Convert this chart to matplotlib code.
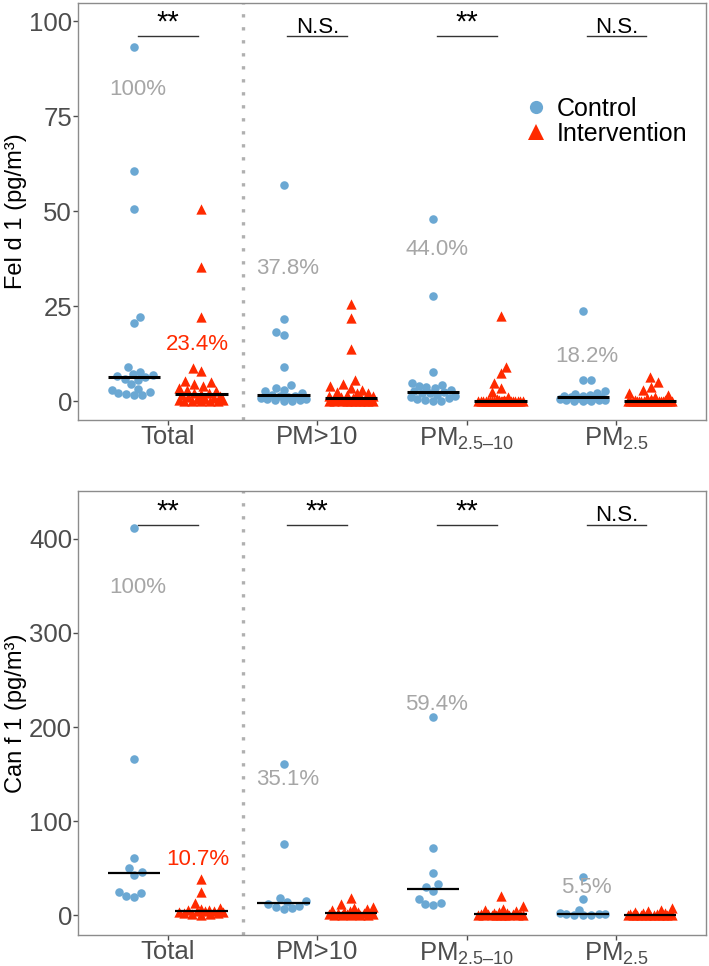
import numpy as np
import matplotlib.pyplot as plt
from matplotlib.lines import Line2D

plt.rcParams['font.family'] = ['Liberation Sans', 'DejaVu Sans']
plt.rcParams['mathtext.fontset'] = 'custom'
plt.rcParams['mathtext.rm'] = 'Liberation Sans'

categories = ['Total', 'PM>10', 'PM$_{\\mathrm{2.5\u201310}}$', 'PM$_{\\mathrm{2.5}}$']

# Fel d 1 (pg/m3)
fel_ctrl = [
    [93.2, 60.5, 50.6, 22.0, 20.6, 9.0, 7.6, 7.2, 6.9, 6.6, 6.4, 5.9, 5.5, 4.4, 3.2, 2.8, 2.4, 2.0, 1.8, 1.6, 1.5],
    [57.0, 21.6, 18.1, 17.5, 8.9, 4.2, 3.5, 3.0, 2.6, 2.2, 1.6, 1.4, 1.2, 1.0, 0.8, 0.6, 0.5, 0.3, 0.2, 0.0, 0.0],
    [47.9, 27.7, 7.6, 4.8, 4.3, 4.0, 3.6, 3.3, 3.0, 2.7, 2.4, 2.2, 2.0, 1.6, 1.3, 1.0, 0.8, 0.5, 0.3, 0.0, 0.0],
    [23.6, 5.6, 5.5, 2.6, 2.0, 1.8, 1.6, 1.4, 1.2, 1.1, 1.0, 0.9, 0.8, 0.6, 0.5, 0.4, 0.3, 0.2, 0.1, 0.0, 0.0],
]
fel_intv = [
    [50.5, 35.3, 22.0, 8.8, 7.8, 5.2, 5.0, 4.5, 4.0, 3.5, 3.0, 2.6, 2.2, 2.0, 1.8, 1.5, 1.2, 1.0, 0.8, 0.6,
     0.5, 0.3, 0.2, 0.1, 0.0, 0.0, 0.0, 0.0],
    [25.6, 21.9, 13.8, 5.5, 4.5, 4.0, 3.5, 3.0, 2.5, 2.2, 2.0, 1.6, 1.4, 1.2, 1.0, 0.9, 0.8, 0.7, 0.6, 0.5,
     0.4, 0.3, 0.3, 0.2, 0.2, 0.1, 0.1, 0.0, 0.0, 0.0, 0.0, 0.0, 0.0, 0.0, 0.0],
    [22.3, 9.0, 7.3, 4.8, 3.3, 2.3, 1.0, 0.5, 0.3, 0.2, 0.1, 0.0, 0.0, 0.0, 0.0, 0.0, 0.0, 0.0, 0.0, 0.0,
     0.0, 0.0, 0.0, 0.0, 0.0, 0.0, 0.0, 0.0, 0.0, 0.0, 0.0, 0.0],
    [6.2, 5.0, 3.8, 2.8, 2.0, 1.5, 1.0, 0.8, 0.5, 0.3, 0.2, 0.1, 0.0, 0.0, 0.0, 0.0, 0.0, 0.0, 0.0, 0.0,
     0.0, 0.0, 0.0, 0.0, 0.0, 0.0, 0.0, 0.0, 0.0, 0.0],
]
fel_pct = ['100%', '37.8%', '44.0%', '18.2%']
fel_pct_y = [82, 34.8, 39.8, 11.7]
fel_int_pct = '23.4%'
fel_int_pct_y = 14.9
fel_sig = ['**', 'N.S.', '**', 'N.S.']

# Can f 1 (pg/m3)
can_ctrl = [
    [412, 165.5, 61, 50, 46, 43, 25, 23, 20.5, 19],
    [160.5, 76, 18, 15, 13.5, 11.3, 10, 9, 7, 6],
    [210.7, 71, 45, 33, 30, 25.7, 17, 12.4, 11.7, 10.6],
    [41, 17.6, 5, 2, 1.5, 1, 0.8, 0.5, 0.2, 0],
]
can_intv = [
    [38.5, 24, 13, 8, 6, 5.5, 5, 4.5, 4.2, 4, 3.5, 3, 2.5, 2, 1.5, 1, 0.5],
    [18, 12, 9, 7, 6, 5, 4, 3.5, 3, 2.5, 2.2, 2.0, 1.5, 1.2, 1.0, 0.8, 0.5, 0.3, 0, 0, 0],
    [20.5, 10, 6, 5, 4, 3, 2.5, 2, 1.5, 1.2, 1.0, 0.8, 0.5, 0.3, 0.2, 0, 0, 0, 0, 0, 0],
    [7, 5, 4, 3, 2.5, 2, 1.5, 1, 0.8, 0.5, 0.3, 0.2, 0.1, 0, 0, 0, 0, 0, 0, 0],
]
can_pct = ['100%', '35.1%', '59.4%', '5.5%']
can_pct_y = [348.6, 144.3, 223.9, 29.3]
can_int_pct = '10.7%'
can_int_pct_y = 59.4
can_sig = ['**', '**', '**', 'N.S.']

BLUE = '#6BA8D3'
RED = '#FF2A00'
GREY_TXT = '#A6A6A6'
TICK_COL = '#4D4D4D'


def swarm_x(ax, values, center, diam_px, half_px):
    vals = np.asarray(values, float)
    pts = ax.transData.transform(np.column_stack([np.full(len(vals), center), vals]))
    cx = pts[0, 0]
    ys = pts[:, 1]
    order = np.argsort(ys, kind='stable')
    cand = np.arange(-half_px, half_px + 0.01, 0.5)
    cand = cand[np.argsort(np.abs(cand), kind='stable')]
    px, py = [], []
    xs = np.zeros(len(vals))
    for i in order:
        y = ys[i]
        off = 0.0
        if px:
            pxa = np.array(px)
            pya = np.array(py)
            near = np.abs(pya - y) < diam_px
            if near.any():
                dx = cand[:, None] - pxa[near][None, :]
                dy = y - pya[near]
                d = np.sqrt(dx ** 2 + dy[None, :] ** 2).min(axis=1)
                ok = np.where(d >= diam_px)[0]
                off = cand[ok[0]] if len(ok) else cand[np.argmax(d)]
        xs[i] = cx + off
        px.append(off)
        py.append(y)
    return ax.transData.inverted().transform(np.column_stack([xs, ys]))[:, 0]


def draw_panel(ax, ctrl, intv, ylim, yticks, ylabel, pct, pct_y, int_pct, int_pct_y,
               sig, sig_y, med_lw):
    ax.set_xlim(0.4, 4.6)
    ax.set_ylim(*ylim)
    ppu = ax.transData.transform((1, 0))[0] - ax.transData.transform((0, 0))[0]
    for k in range(4):
        c = k + 1
        xc = swarm_x(ax, ctrl[k], c - 0.225, 8.0, 0.15 * ppu)
        ax.scatter(xc, ctrl[k], s=38, color=BLUE, marker='o', linewidths=0, zorder=3)
        xi = swarm_x(ax, intv[k], c + 0.225, 8.5, 0.15 * ppu)
        ax.scatter(xi, intv[k], s=55, color=RED, marker='^', linewidths=0, zorder=3)
        ax.hlines(np.median(ctrl[k]), c - 0.225 - 0.175, c - 0.225 + 0.175, color='black', lw=med_lw, zorder=4)
        ax.hlines(np.median(intv[k]), c + 0.225 - 0.175, c + 0.225 + 0.175, color='black', lw=med_lw, zorder=4)
        ax.plot([c - 0.2, c + 0.2], [sig_y, sig_y], color='#333333', lw=1)
        if sig[k] == '**':
            ax.annotate(sig[k], (c, sig_y), xytext=(0, 4), textcoords='offset points',
                        ha='center', va='baseline', fontsize=21, color='black')
        else:
            ax.annotate(sig[k], (c, sig_y), xytext=(0, 2.5), textcoords='offset points',
                        ha='center', va='baseline', fontsize=16, color='black')
        ax.text(c - 0.2, pct_y[k], pct[k], ha='center', va='center', fontsize=16, color=GREY_TXT, zorder=5)
    ax.text(1.2, int_pct_y, int_pct, ha='center', va='center', fontsize=16, color=RED, zorder=5)
    ax.axvline(1.5, color='#B0B0B0', lw=2.4, ls=(0, (1, 2.9)), zorder=1)
    ax.set_xticks([1, 2, 3, 4])
    ax.set_xticklabels(categories)
    ax.set_yticks(yticks)
    ax.tick_params(labelsize=18.5, colors=TICK_COL, length=3.3, width=1)
    ax.tick_params(axis='y', pad=1)
    ax.tick_params(axis='x', pad=0.5)
    for sp in ax.spines.values():
        sp.set_color('#8C8C8C')
        sp.set_linewidth(1)
    ax.set_ylabel(ylabel, fontsize=17, labelpad=1.5)


fig = plt.figure(figsize=(7.09, 9.66), dpi=100)
ax1 = fig.add_axes([0.110, 0.5652, 0.886, 0.4317])
ax2 = fig.add_axes([0.110, 0.0321, 0.886, 0.4596])

draw_panel(ax1, fel_ctrl, fel_intv, (-5.0, 104.8), [0, 25, 50, 75, 100], 'Fel d 1 (pg/m\u00b3)',
           fel_pct, fel_pct_y, fel_int_pct, fel_int_pct_y, fel_sig, 96, 2.2)
draw_panel(ax2, can_ctrl, can_intv, (-21.2, 451), [0, 100, 200, 300, 400], 'Can f 1 (pg/m\u00b3)',
           can_pct, can_pct_y, can_int_pct, can_int_pct_y, can_sig, 415, 1.6)

handles = [Line2D([], [], ls='', marker='o', color=BLUE, markersize=9.5, markeredgewidth=0),
           Line2D([], [], ls='', marker='^', color=RED, markersize=12, markeredgewidth=0)]
ax1.legend(handles, ['Control', 'Intervention'], loc='upper left', bbox_to_anchor=(0.71, 0.775),
           frameon=False, fontsize=18, handlelength=1.0, handletextpad=0.3, borderpad=0,
           labelspacing=0.05, borderaxespad=0)

fig.savefig('out.png', dpi=100)
